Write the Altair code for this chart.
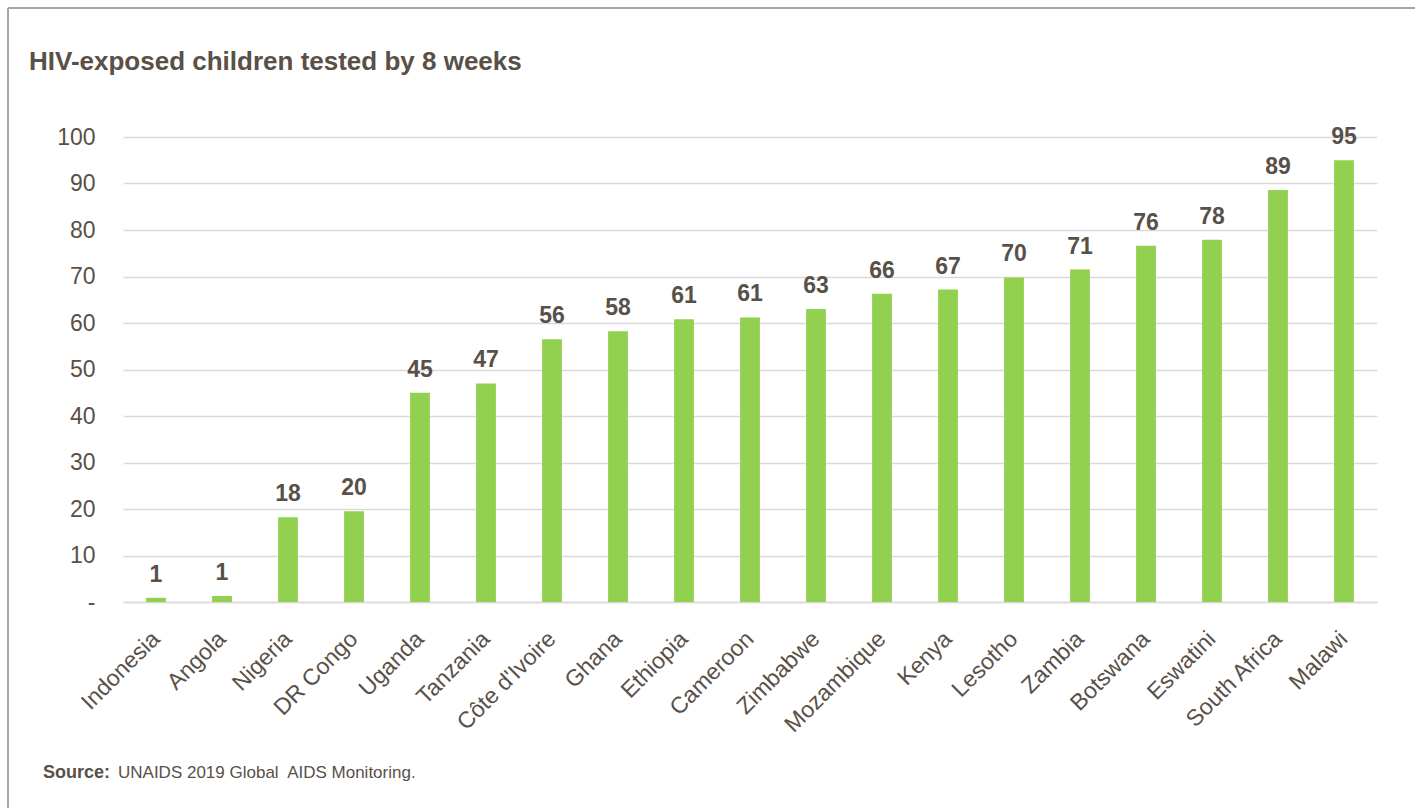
import altair as alt
import pandas as pd

countries = ["Indonesia", "Angola", "Nigeria", "DR Congo", "Uganda", "Tanzania",
             "Côte d'Ivoire", "Ghana", "Ethiopia", "Cameroon", "Zimbabwe",
             "Mozambique", "Kenya", "Lesotho", "Zambia", "Botswana", "Eswatini",
             "South Africa", "Malawi"]
values = [0.9, 1.3, 18.2, 19.5, 45.0, 47.0, 56.5, 58.2, 60.8, 61.2, 63.0,
          66.3, 67.2, 69.8, 71.5, 76.6, 77.9, 88.6, 95.0]
labels = ["1", "1", "18", "20", "45", "47", "56", "58", "61", "61", "63",
          "66", "67", "70", "71", "76", "78", "89", "95"]
y_ticks = [0, 10, 20, 30, 40, 50, 60, 70, 80, 90, 100]

title_text = "HIV-exposed children tested by 8 weeks"
source_bold = "Source:"
source_text = "UNAIDS 2019 Global\u00a0 AIDS Monitoring."

TEXT = "#595048"
GREEN = "#92D050"
GRID = "#D9D9D9"
FONT = "Liberation Sans"

df = pd.DataFrame({"country": countries, "value": values, "label": labels})

W, H = 1254, 465
PL, PT = 123, 137

xenc = alt.X("country:N", sort=countries,
             scale=alt.Scale(paddingInner=0.7, paddingOuter=0.35),
             axis=alt.Axis(title=None, labelAngle=-45, labelAlign="right",
                           labelBaseline="middle", labelFontSize=23,
                           labelColor=TEXT, labelFont=FONT, labelPadding=33,
                           ticks=False, domain=True, domainColor=GRID,
                           domainWidth=1.5, labelLimit=300))
yenc = alt.Y("value:Q",
             scale=alt.Scale(domain=[0, 100], nice=False),
             axis=alt.Axis(title=None, values=y_ticks, grid=True,
                           gridColor=GRID, gridWidth=1.5, ticks=False,
                           domain=False, labelFontSize=23, labelColor=TEXT,
                           labelFont=FONT, labelPadding=28,
                           labelExpr="datum.value == 0 ? '-\u00a0\u00a0' : datum.label"))

bars = alt.Chart(df).mark_bar(color=GREEN).encode(x=xenc, y=yenc)

bar_labels = alt.Chart(df).mark_text(
    font=FONT, fontSize=23, fontWeight="bold", color=TEXT,
    baseline="alphabetic", dy=-16
).encode(x=alt.X("country:N", sort=countries), y="value:Q", text="label:N")

one = pd.DataFrame({"t": [title_text]})
title = alt.Chart(one).mark_text(
    font=FONT, fontSize=26, fontWeight="bold", color=TEXT,
    align="left", baseline="alphabetic"
).encode(x=alt.value(29 - PL), y=alt.value(70 - PT), text="t:N")

src1 = alt.Chart(pd.DataFrame({"t": [source_bold]})).mark_text(
    font=FONT, fontSize=18, fontWeight="bold", color=TEXT,
    align="left", baseline="alphabetic"
).encode(x=alt.value(43 - PL), y=alt.value(778 - PT), text="t:N")

src2 = alt.Chart(pd.DataFrame({"t": [source_text]})).mark_text(
    font=FONT, fontSize=17, color=TEXT,
    align="left", baseline="alphabetic"
).encode(x=alt.value(118 - PL), y=alt.value(778 - PT), text="t:N")

frame_top = alt.Chart(one).mark_rule(color="#A6A6A6", strokeWidth=2).encode(
    x=alt.value(8 - PL), x2=alt.value(1415 - PL), y=alt.value(8 - PT))
frame_left = alt.Chart(one).mark_rule(color="#A6A6A6", strokeWidth=2).encode(
    x=alt.value(8 - PL), y=alt.value(8 - PT), y2=alt.value(808 - PT))

chart = alt.layer(bars, bar_labels, title, src1, src2, frame_top, frame_left).properties(
    width=W, height=H,
    autosize=alt.AutoSizeParams(type="none"),
    padding={"left": PL, "top": PT, "right": 1415 - PL - W, "bottom": 808 - PT - H},
    background="white",
).configure_view(stroke=None)

chart.save("out.html", embed_options={"renderer": "svg", "actions": False})
